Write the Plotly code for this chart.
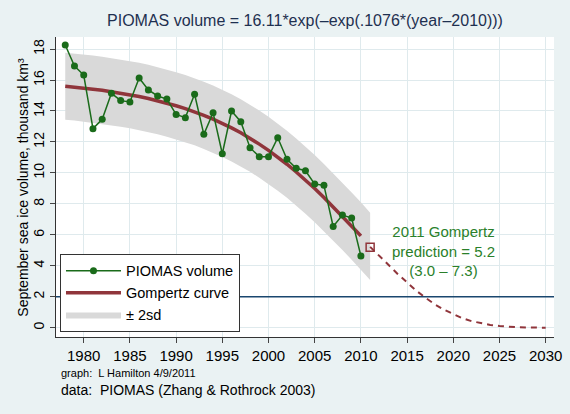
import plotly.graph_objects as go

# September ice volume (thousand km3)
years = list(range(1978, 2011))
volume = [18.26, 16.90, 16.32, 12.86, 13.46, 15.14, 14.67, 14.58, 16.13, 15.36,
          14.97, 14.77, 13.78, 13.57, 15.08, 12.49, 13.89, 11.24, 14.00, 13.31,
          11.63, 11.05, 11.05, 12.27, 10.88, 10.30, 10.14, 9.28, 9.20, 6.54,
          7.28, 7.08, 4.63]

# Gompertz fitted curve 1978-2010
curve = [15.60, 15.55, 15.48, 15.41, 15.34, 15.25, 15.16, 15.05, 14.94, 14.81,
         14.67, 14.51, 14.34, 14.15, 13.95, 13.72, 13.47, 13.20, 12.91, 12.59,
         12.24, 11.86, 11.46, 11.02, 10.56, 10.06, 9.54, 8.99, 8.41, 7.81,
         7.19, 6.56, 5.93]

# +/- 2sd band 1978-2011
band_years = list(range(1978, 2012))
band_upper = [17.77, 17.72, 17.65, 17.58, 17.51, 17.42, 17.33, 17.22, 17.11, 16.98,
              16.84, 16.68, 16.51, 16.32, 16.12, 15.89, 15.64, 15.37, 15.08, 14.76,
              14.41, 14.03, 13.63, 13.19, 12.73, 12.23, 11.71, 11.16, 10.58, 9.98,
              9.36, 8.73, 8.10, 7.43]
band_lower = [13.43, 13.38, 13.31, 13.24, 13.17, 13.08, 12.99, 12.88, 12.77, 12.64,
              12.50, 12.34, 12.17, 11.98, 11.78, 11.55, 11.30, 11.03, 10.74, 10.42,
              10.07, 9.69, 9.29, 8.85, 8.39, 7.89, 7.37, 6.82, 6.24, 5.64,
              5.02, 4.39, 3.76, 3.08]

# projection 2011-2030 (dashed)
proj_years = list(range(2011, 2031))
proj = [5.22, 4.66, 4.05, 3.46, 2.91, 2.39, 1.93, 1.51, 1.16, 0.86,
        0.61, 0.42, 0.28, 0.18, 0.11, 0.06, 0.03, 0.016, 0.007, 0.003]

pred_year = [2011]
pred_value = [5.2]
ref_line = 2

x_ticks = list(range(1980, 2031, 5))
y_ticks = list(range(0, 19, 2))

GREEN = "#1a6b1a"
MAROON = "#90353b"
NAVY = "#1a476f"
BG = "#eaf2f3"
GRID = "#dfeaed"
FONT = "Liberation Sans, Arial, sans-serif"

fig = go.Figure()

fig.add_trace(go.Scatter(
    x=band_years + band_years[::-1],
    y=band_upper + band_lower[::-1],
    fill="toself", fillcolor="#d9d9d9", mode="lines",
    line=dict(width=0, color="#d9d9d9"),
    name="± 2sd", legendrank=3, hoverinfo="skip",
))

fig.add_trace(go.Scatter(
    x=years, y=curve, mode="lines",
    line=dict(color=MAROON, width=3.5),
    name="Gompertz curve", legendrank=2,
))

fig.add_trace(go.Scatter(
    x=proj_years, y=proj, mode="lines",
    line=dict(color=MAROON, width=2, dash="6px,5px"),
    showlegend=False,
))

fig.add_trace(go.Scatter(
    x=pred_year, y=pred_value, mode="markers",
    marker=dict(symbol="square-open", size=8, color=MAROON, line=dict(width=1.5)),
    showlegend=False,
))

fig.add_trace(go.Scatter(
    x=years, y=volume, mode="lines+markers",
    line=dict(color=GREEN, width=1.5),
    marker=dict(color=GREEN, size=7),
    name="PIOMAS volume", legendrank=1,
))

fig.add_hline(y=ref_line, line=dict(color=NAVY, width=1.5), layer="above")

fig.update_layout(
    width=570, height=414,
    margin=dict(l=56, r=16, t=37, b=77),
    paper_bgcolor=BG, plot_bgcolor="white",
    font=dict(family=FONT, size=14, color="black"),
    title=dict(
        text="PIOMAS volume = 16.11*exp(–exp(.1076*(year–2010)))",
        x=0.5, xref="paper", xanchor="center",
        y=1 - 20 / 414, yref="container", yanchor="middle",
        font=dict(size=16, color="#1e3050"),
    ),
    legend=dict(
        x=0.008, y=0.017, xanchor="left", yanchor="bottom",
        bgcolor="white", bordercolor="#333", borderwidth=1,
        font=dict(size=14.5), itemwidth=55, traceorder="normal",
    ),
    showlegend=True,
)

fig.update_xaxes(
    range=[1977, 2030.9], tickvals=x_ticks, ticks="outside", ticklen=5,
    showline=True, linecolor="#333", linewidth=1, zeroline=False,
    showgrid=True, gridcolor=GRID, gridwidth=1.2,
    tickfont=dict(size=15), automargin=False,
)
fig.update_yaxes(
    range=[-0.6, 18.78], tickvals=y_ticks, ticks="outside", ticklen=5,
    showline=True, linecolor="#333", linewidth=1, zeroline=False,
    showgrid=True, gridcolor=GRID, gridwidth=1.2,
    tickangle=-90, tickfont=dict(size=14), automargin=False,
)

fig.add_annotation(
    text="September sea ice volume, thousand km³",
    xref="paper", yref="paper", x=(22.7 - 56) / 498, y=0.5,
    xanchor="center", yanchor="middle", textangle=-90,
    showarrow=False, font=dict(size=14),
)

fig.add_annotation(
    text="2011 Gompertz<br>prediction = 5.2<br>(3.0 – 7.3)",
    x=2018.9, y=4.95, xref="x", yref="y", showarrow=False,
    font=dict(size=15, color="#2a7f2a"), align="center",
)

fig.add_annotation(
    text="graph:  L Hamilton 4/9/2011",
    xref="paper", yref="paper", x=(59 - 56) / 498, y=-(373 - 337) / 300,
    xanchor="left", yanchor="middle", showarrow=False,
    font=dict(size=11, family="Liberation Sans Narrow, Arial Narrow, sans-serif"),
)

fig.add_annotation(
    text="data:  PIOMAS (Zhang & Rothrock 2003)",
    xref="paper", yref="paper", x=(59 - 56) / 498, y=-(390 - 337) / 300,
    xanchor="left", yanchor="middle", showarrow=False,
    font=dict(size=14),
)

# drop the default page margin so the figure sits at the window's corner
fig.write_html(
    "out.html",
    config={"displayModeBar": False},
    post_script="document.body.style.margin='0';"
                "document.body.style.background='" + BG + "';",
)
